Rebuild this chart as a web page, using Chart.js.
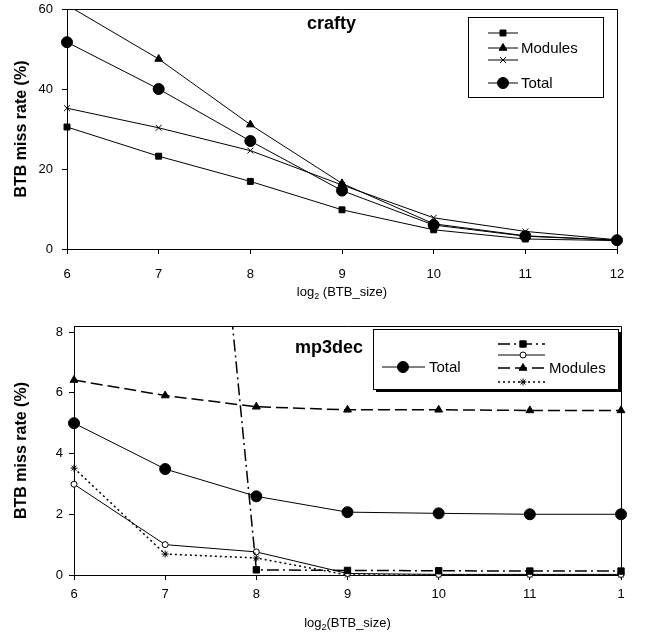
<!DOCTYPE html>
<html><head><meta charset="utf-8">
<script src="https://cdn.jsdelivr.net/npm/chart.js@4/dist/chart.umd.min.js"></script>
<style>
html,body{margin:0;padding:0;background:#fff;}
#wrap{position:relative;width:646px;height:634px;background:#fff;}
.box{position:absolute;left:0;width:646px;}
</style></head><body>
<div id="wrap">
<div class="box" style="top:0;height:310px"><canvas id="c1" width="646" height="310"></canvas></div>
<div class="box" style="top:310px;height:324px"><canvas id="c2" width="646" height="324"></canvas></div>
</div>
<script>
// ---------- data ----------
const xCategories = [6, 7, 8, 9, 10, 11, 12];
const topTickLabels = ['6', '7', '8', '9', '10', '11', '12'];
const bottomTickLabels = ['6', '7', '8', '9', '10', '11', '1'];
const topYTicks = [0, 20, 40, 60];
const bottomYTicks = [0, 2, 4, 6, 8];

// crafty
const craftySquare   = [30.5, 23.2, 16.9, 9.8, 4.8, 2.5, 2.1];
const craftyTriangle = [61.0, 47.5, 31.1, 16.4, 6.3, 3.3, 2.2];
const craftyCross    = [35.2, 30.3, 24.6, 16.0, 7.8, 4.4, 2.3];
const craftyTotal    = [51.7, 40.0, 27.0, 14.6, 6.0, 3.2, 2.2];

// mp3dec
const mp3Total    = [5.0, 3.49, 2.59, 2.07, 2.03, 2.0, 2.0];
const mp3Square   = [45, 31, 0.17, 0.15, 0.14, 0.13, 0.13];
const mp3Circle   = [2.99, 1.0, 0.76, 0.05, 0.02, 0.02, 0.02];
const mp3Triangle = [6.42, 5.91, 5.54, 5.44, 5.44, 5.42, 5.42];
const mp3Star     = [3.52, 0.69, 0.56, 0.0, 0.0, 0.0, 0.0];

const topTitle = 'crafty';
const bottomTitle = 'mp3dec';
const yTitle = 'BTB miss rate (%)';
const topXTitle = ['log', '2', ' (BTB_size)'];
const bottomXTitle = ['log', '2', '(BTB_size)'];
const topLegendText = ['', 'Modules', '', 'Total'];
const bottomLegendRight = ['', '', 'Modules', ''];
const bottomLegendLeft = 'Total';

// ---------- helpers ----------
const FONT = "'Liberation Sans', Arial, sans-serif";
Chart.defaults.font.family = FONT;
Chart.defaults.color = '#000';

const CLIP = {left: 10, right: 10, top: 0, bottom: 10};
function ds(label, data, o) {
  return Object.assign({
    label, data,
    borderColor: '#000', backgroundColor: '#000',
    pointBackgroundColor: '#000', pointBorderColor: '#000',
    borderWidth: 1, pointBorderWidth: 1, tension: 0, fill: false,
    clip: CLIP, pointHoverRadius: 0
  }, o);
}

function zeroPad(s) { s.paddingTop = 0; s.paddingBottom = 0; s.paddingLeft = 0; s.paddingRight = 0; }

function scales(cfg) {
  const grid = {display: true, drawOnChartArea: false, drawTicks: true, tickLength: 5, color: '#000', tickColor: '#000', lineWidth: 1};
  const border = {display: true, color: '#000', width: 1};
  return {
    x: {
      type: 'category', offset: false,
      ticks: {color: '#000', font: {family: FONT, size: 13}, padding: cfg.xPad, maxRotation: 0, autoSkip: false,
              callback: (v, i) => cfg.xLabels[i]},
      grid, border,
      afterFit: s => { s.height = cfg.xH; zeroPad(s); }
    },
    y: {
      type: 'linear', min: 0, max: cfg.yMax,
      afterBuildTicks: s => { s.ticks = cfg.yTicks.map(v => ({value: v})); },
      ticks: {color: '#000', font: {family: FONT, size: 13}, padding: cfg.yPad},
      grid, border,
      afterFit: s => { s.width = cfg.yW; zeroPad(s); }
    }
  };
}

function drawLegendSample(ctx, d, x1, x2, y, mx) {
  ctx.save();
  ctx.strokeStyle = d.borderColor;
  ctx.lineWidth = d.borderWidth;
  ctx.setLineDash(d.borderDash || []);
  ctx.beginPath(); ctx.moveTo(x1, y); ctx.lineTo(x2, y); ctx.stroke();
  ctx.setLineDash([]);
  ctx.fillStyle = d.pointBackgroundColor;
  ctx.strokeStyle = d.pointBorderColor;
  ctx.lineWidth = d.pointBorderWidth;
  Chart.helpers.drawPoint(ctx, {pointStyle: d.pointStyle, radius: d.pointRadius, rotation: 0, borderWidth: d.pointBorderWidth}, mx, y);
  ctx.restore();
}

function decoPlugin(cfg) {
  return {
    id: 'deco',
    beforeDatasetsDraw(chart) {
      const {ctx, chartArea: a} = chart;
      ctx.save();
      ctx.strokeStyle = '#000'; ctx.lineWidth = 1;
      ctx.beginPath();
      ctx.moveTo(a.left, Math.round(a.top) + 0.5);
      ctx.lineTo(Math.round(a.right) + 0.5, Math.round(a.top) + 0.5);
      ctx.lineTo(Math.round(a.right) + 0.5, a.bottom);
      ctx.stroke();
      ctx.restore();
    },
    afterDatasetsDraw(chart) {
      const {ctx, chartArea: a} = chart;
      ctx.save();
      ctx.fillStyle = '#000';
      // y title
      ctx.save();
      ctx.translate(cfg.yTitleX, (a.top + a.bottom) / 2);
      ctx.rotate(-Math.PI / 2);
      ctx.font = 'bold 16px ' + FONT;
      ctx.textAlign = 'center'; ctx.textBaseline = 'middle';
      ctx.fillText(yTitle, 0, 0);
      ctx.restore();
      // x title with subscript
      const [p1, sub, p2] = cfg.xTitle;
      ctx.font = '13px ' + FONT;
      const w1 = ctx.measureText(p1).width, w3 = ctx.measureText(p2).width;
      ctx.font = '9px ' + FONT;
      const w2 = ctx.measureText(sub).width;
      let x = (a.left + a.right) / 2 - (w1 + w2 + w3) / 2;
      ctx.textBaseline = 'alphabetic'; ctx.textAlign = 'left';
      ctx.font = '13px ' + FONT; ctx.fillText(p1, x, cfg.xTitleY);
      ctx.font = '9px ' + FONT; ctx.fillText(sub, x + w1, cfg.xTitleY + 3);
      ctx.font = '13px ' + FONT; ctx.fillText(p2, x + w1 + w2, cfg.xTitleY);
      // chart title
      ctx.font = 'bold 18px ' + FONT;
      ctx.fillText(cfg.title, cfg.titleX, cfg.titleY);
      ctx.restore();
      cfg.legend(chart, ctx);
    }
  };
}

// ---------- top chart: crafty ----------
const topDatasets = [
  ds('Modules (square)', craftySquare, {pointStyle: 'rect', pointRadius: 4.2}),
  ds('Modules (triangle)', craftyTriangle, {pointStyle: 'triangle', pointRadius: 4.5}),
  ds('Modules (cross)', craftyCross, {pointStyle: 'crossRot', pointRadius: 4.2, pointBackgroundColor: 'rgba(0,0,0,0)'}),
  ds('Total', craftyTotal, {pointStyle: 'circle', pointRadius: 5.5})
];

new Chart(document.getElementById('c1'), {
  type: 'line',
  data: {labels: xCategories, datasets: topDatasets},
  options: {
    responsive: false, animation: false, events: [],
    layout: {padding: {left: 0, right: 29, top: 9, bottom: 0}},
    plugins: {legend: {display: false}, tooltip: {enabled: false}},
    scales: scales({xLabels: topTickLabels, xPad: 13, xH: 61, yMax: 60, yTicks: topYTicks, yPad: 9, yW: 67})
  },
  plugins: [decoPlugin({
    title: topTitle, titleX: 307, titleY: 29, yTitleX: 22, xTitle: topXTitle, xTitleY: 296,
    legend(chart, ctx) {
      ctx.save();
      ctx.fillStyle = '#fff'; ctx.strokeStyle = '#000'; ctx.lineWidth = 1;
      ctx.fillRect(468.5, 17.5, 135, 80); ctx.strokeRect(468.5, 17.5, 135, 80);
      const rows = [33, 48, 60, 83];
      chart.data.datasets.forEach((d, i) => {
        drawLegendSample(ctx, d, 488, 518, rows[i], 503);
        if (topLegendText[i]) {
          ctx.fillStyle = '#000'; ctx.font = '15px ' + FONT;
          ctx.textAlign = 'left'; ctx.textBaseline = 'middle';
          ctx.fillText(topLegendText[i], 521, rows[i] + 1);
        }
      });
      ctx.restore();
    }
  })]
});

// ---------- bottom chart: mp3dec ----------
const bottomDatasets = [
  ds('Modules (square)', mp3Square, {pointStyle: 'rect', pointRadius: 4.5, borderDash: [12, 4, 2, 4], borderWidth: 1.5}),
  ds('Modules (open circle)', mp3Circle, {pointStyle: 'circle', pointRadius: 3, pointBackgroundColor: '#fff'}),
  ds('Modules (triangle)', mp3Triangle, {pointStyle: 'triangle', pointRadius: 4.5, borderDash: [12, 5], borderWidth: 1.5}),
  ds('Modules (star)', mp3Star, {pointStyle: 'star', pointRadius: 3.5, borderDash: [2, 3], borderWidth: 1.5, pointBackgroundColor: 'rgba(0,0,0,0)'}),
  ds('Total', mp3Total, {pointStyle: 'circle', pointRadius: 5.5})
];

new Chart(document.getElementById('c2'), {
  type: 'line',
  data: {labels: xCategories, datasets: bottomDatasets},
  options: {
    responsive: false, animation: false, events: [],
    layout: {padding: {left: 0, right: 25, top: 16, bottom: 0}},
    plugins: {legend: {display: false}, tooltip: {enabled: false}},
    scales: scales({xLabels: bottomTickLabels, xPad: 7, xH: 59, yMax: 8.2, yTicks: bottomYTicks, yPad: 6, yW: 74})
  },
  plugins: [decoPlugin({
    title: bottomTitle, titleX: 295, titleY: 43, yTitleX: 22, xTitle: bottomXTitle, xTitleY: 317,
    legend(chart, ctx) {
      ctx.save();
      ctx.fillStyle = '#000';
      ctx.fillRect(376, 22, 245, 60);
      ctx.fillStyle = '#fff'; ctx.strokeStyle = '#000'; ctx.lineWidth = 1;
      ctx.fillRect(373.5, 19.5, 245, 60); ctx.strokeRect(373.5, 19.5, 245, 60);
      const ds = chart.data.datasets;
      const rows = [34, 45, 58, 72];
      for (let i = 0; i < 4; i++) {
        drawLegendSample(ctx, ds[i], 498, 545, rows[i], 523);
        if (bottomLegendRight[i]) {
          ctx.fillStyle = '#000'; ctx.font = '15px ' + FONT;
          ctx.textAlign = 'left'; ctx.textBaseline = 'middle';
          ctx.fillText(bottomLegendRight[i], 549, rows[i] + 1);
        }
      }
      drawLegendSample(ctx, ds[4], 382, 425, 57, 403);
      ctx.fillStyle = '#000'; ctx.font = '15px ' + FONT;
      ctx.textAlign = 'left'; ctx.textBaseline = 'middle';
      ctx.fillText(bottomLegendLeft, 429, 58);
      ctx.restore();
    }
  })]
});
</script>
</body></html>
